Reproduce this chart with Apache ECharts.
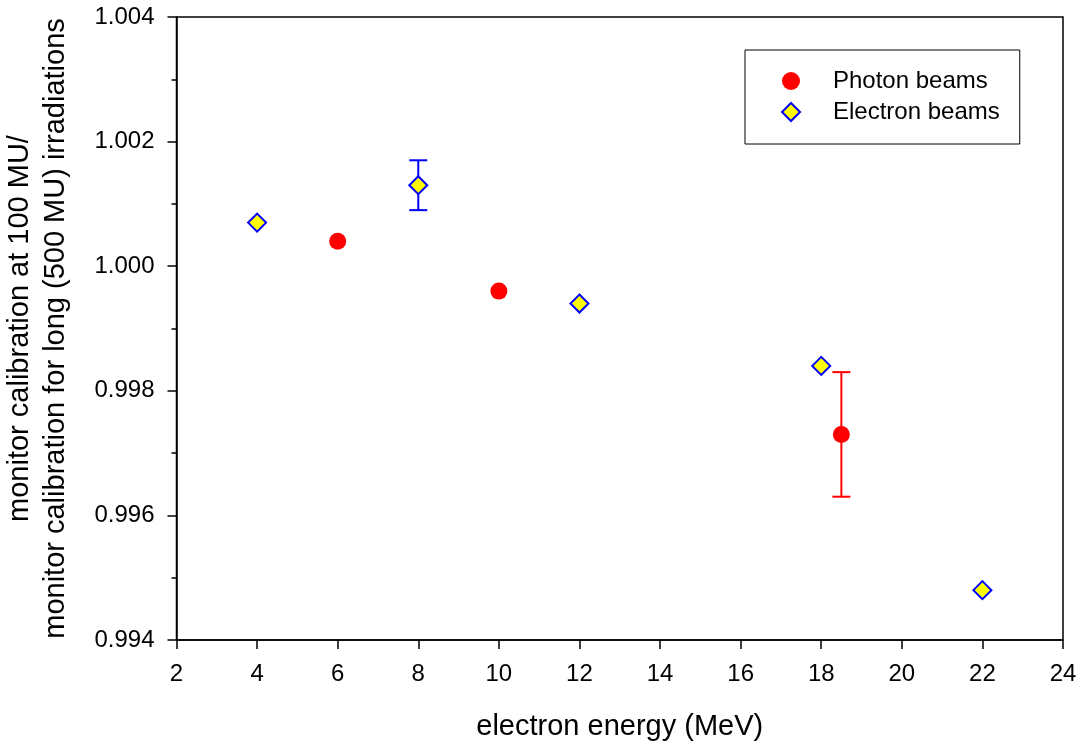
<!DOCTYPE html>
<html>
<head>
<meta charset="utf-8">
<script src="https://cdn.jsdelivr.net/npm/echarts@6/dist/echarts.min.js"></script>
<style>
  html, body { margin: 0; padding: 0; background: #fff; }
  #chart { width: 1081px; height: 745px; }
</style>
</head>
<body>
<div id="chart"></div>
<script>
// photon beams: energy, ratio
const photonX = [6, 10, 18.5]
const photonY = [1.0004, 0.9996, 0.9973]
// electron beams
const electronX = [4, 8, 12, 18, 22]
const electronY = [1.0007, 1.0013, 0.9994, 0.9984, 0.9948]
// error bars: [x, low, high]
const photonErr = [[18.5, 0.9963, 0.9983]]
const electronErr = [[8, 1.0009, 1.0017]]

const FONT = 'Liberation Sans, Arial, sans-serif'

const chart = echarts.init(document.getElementById('chart'))

function errBar(color) {
    return function (params, api) {
        const x = api.value(0)
        const lo = api.coord([x, api.value(1)])
        const hi = api.coord([x, api.value(2)])
        const w = 9
        const style = { stroke: color, lineWidth: 2 }
        return {
            type: 'group',
            children: [
                { type: 'line', shape: { x1: lo[0], y1: lo[1], x2: hi[0], y2: hi[1] }, style: style },
                { type: 'line', shape: { x1: lo[0] - w, y1: lo[1], x2: lo[0] + w, y2: lo[1] }, style: style },
                { type: 'line', shape: { x1: hi[0] - w, y1: hi[1], x2: hi[0] + w, y2: hi[1] }, style: style }
            ]
        }
    }
}

const option = {
    animation: false,
    textStyle: { fontFamily: FONT },
    grid: {
        left: 176.5,
        right: 18,
        top: 17,
        bottom: 105,
        outerBoundsMode: 'none',
        containLabel: false,
        show: true,
        borderColor: '#000',
        borderWidth: 1.5
    },
    legend: {
        data: ['Photon beams', 'Electron beams'],
        orient: 'vertical',
        left: 745,
        top: 50,
        padding: [19, 20, 20, 36],
        itemWidth: 18,
        itemHeight: 18,
        itemGap: 7,
        borderColor: '#000',
        borderWidth: 1,
        textStyle: { fontSize: 24, color: '#000', fontFamily: FONT, padding: [0, 0, 0, 28] }
    },
    xAxis: {
        type: 'value',
        min: 2,
        max: 24,
        interval: 2,
        name: 'electron energy (MeV)',
        nameLocation: 'middle',
        nameGap: 72,
        nameTextStyle: { fontSize: 29, color: '#000', fontFamily: FONT },
        axisLine: { show: true, onZero: false, lineStyle: { color: '#000', width: 1.5 } },
        axisTick: { show: true, inside: false, length: 9, lineStyle: { color: '#000', width: 1.5 } },
        axisLabel: { fontSize: 24, color: '#000', margin: 22, fontFamily: FONT },
        splitLine: { show: false }
    },
    yAxis: {
        type: 'value',
        min: 0.994,
        max: 1.004,
        interval: 0.002,
        name: 'monitor calibration at 100 MU/\nmonitor calibration for long (500 MU) irradiations',
        nameLocation: 'middle',
        nameGap: 103,
        nameTextStyle: { fontSize: 29, color: '#000', fontFamily: FONT, lineHeight: 36 },
        axisLine: { show: true, onZero: false, lineStyle: { color: '#000', width: 1.5 } },
        axisTick: { show: true, inside: false, length: 9, lineStyle: { color: '#000', width: 1.5 } },
        minorTick: { show: true, splitNumber: 2, length: 5, lineStyle: { color: '#000', width: 1.5 } },
        axisLabel: {
            fontSize: 24, color: '#000', margin: 22, fontFamily: FONT,
            formatter: v => v.toFixed(3)
        },
        splitLine: { show: false }
    },
    series: [
        {
            name: 'photonErr',
            type: 'custom',
            renderItem: errBar('#ff0000'),
            data: photonErr,
            z: 1
        },
        {
            name: 'electronErr',
            type: 'custom',
            renderItem: errBar('#0000ff'),
            data: electronErr,
            z: 1
        },
        {
            name: 'Photon beams',
            type: 'scatter',
            symbol: 'circle',
            symbolSize: 17,
            itemStyle: { color: '#ff0000', opacity: 1 },
            data: photonX.map((x, i) => [x, photonY[i]]),
            z: 3
        },
        {
            name: 'Electron beams',
            type: 'scatter',
            symbol: 'diamond',
            symbolSize: 18,
            itemStyle: { color: '#ffff00', borderColor: '#0000ff', borderWidth: 2, opacity: 1 },
            data: electronX.map((x, i) => [x, electronY[i]]),
            z: 3
        }
    ]
}

chart.setOption(option)
</script>
</body>
</html>
